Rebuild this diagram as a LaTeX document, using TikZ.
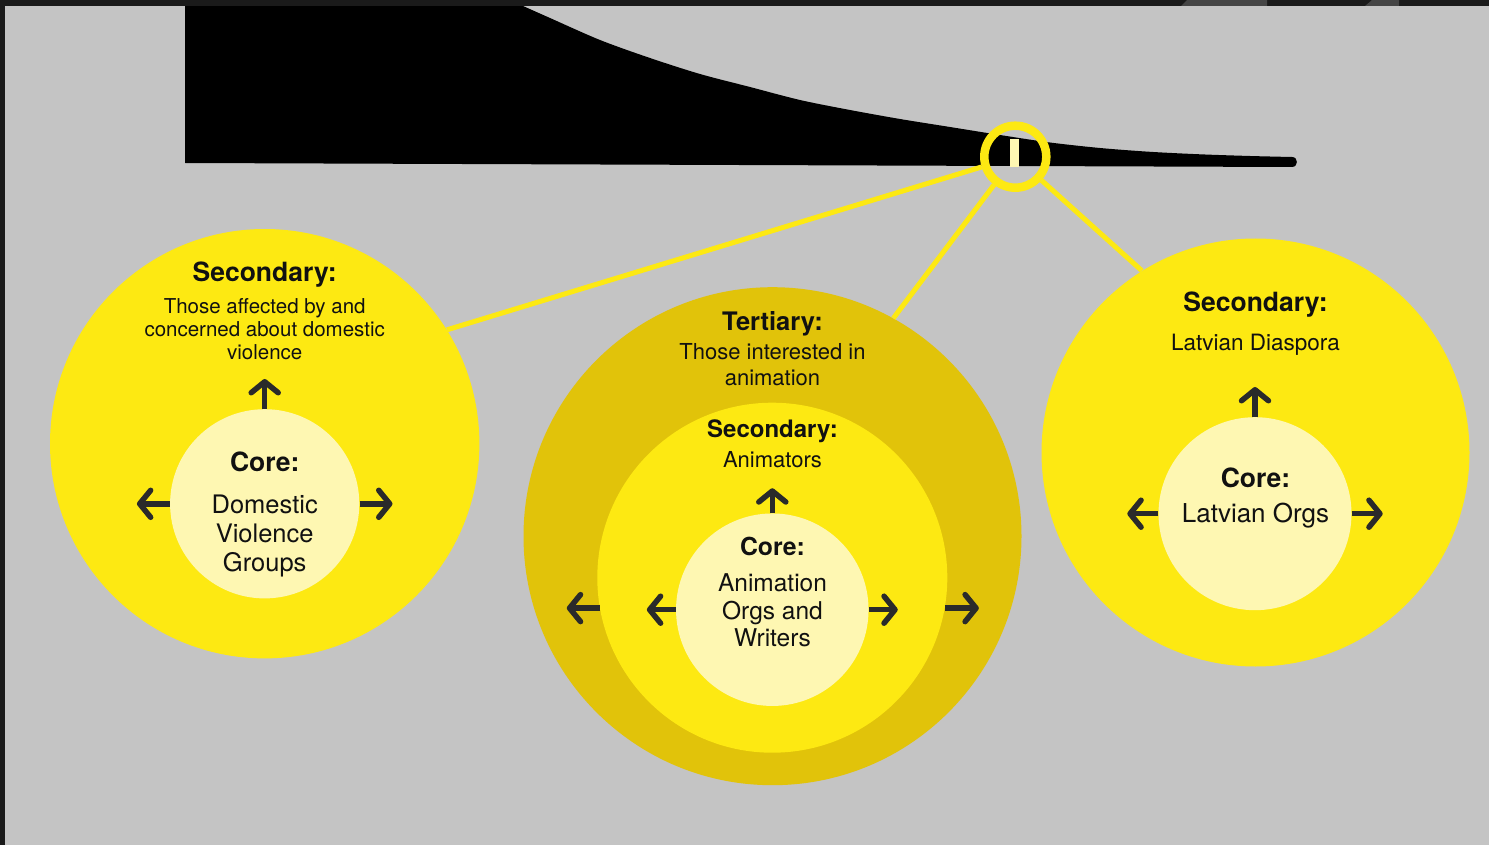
\documentclass[tikz,border=0pt]{standalone}
\usepackage{fontspec}
\setmainfont{TeX Gyre Heros}
\usetikzlibrary{arrows.meta}

\definecolor{bggray}{HTML}{C4C4C4}
\definecolor{framec}{HTML}{1A1A1A}
\definecolor{tabc}{HTML}{454545}
\definecolor{sunny}{HTML}{FDE912}
\definecolor{ochre}{HTML}{E1C30A}
\definecolor{cream}{HTML}{FEF7B2}
\definecolor{ink}{HTML}{111111}
\definecolor{arrowc}{HTML}{2A2A2A}

\tikzset{
  disc/.style={circle, inner sep=0pt, minimum size=#1},
  head/.style={anchor=base, text=ink, align=center,
    font=\fontsize{#1}{#1}\bfseries\selectfont},
  % multi-line labels: anchored on the baseline of their last line
  body/.style 2 args={anchor=base, text=ink, align=center,
    font=\fontsize{#1}{#2}\selectfont},
  link/.style={draw=sunny, line width=5pt},
  outarr/.style={draw=arrowc, line width=5.5pt,
    -{Straight Barb[length=11pt, width=27pt, round]}},
}

\begin{document}
\begin{tikzpicture}[x=1pt, y=-1pt]
\useasboundingbox (0,0) rectangle (1489,845);
\fill[bggray] (0,0) rectangle (1489,845);

% long-tail distribution
\fill[black] (185,6) -- plot[smooth, tension=0.5] coordinates {
    (523,6) (550,18) (600,40) (650,58) (700,74) (750,87) (800,100)
    (850,110) (900,119) (950,127) (1000,135) (1050,142.5) (1100,148)
    (1150,151.8) (1200,154.3) (1250,156) (1292,157)}
  .. controls (1298.5,157) and (1298.5,167) .. (1292,167)
  -- (185,163) -- cycle;

% highlighted position on the tail
\node[circle, draw=sunny, line width=8.5pt, minimum size=62pt, inner sep=0pt]
  (ring) at (1015.3,156.7) {};
\node[fill=cream, minimum width=9pt, minimum height=27.4pt, inner sep=0pt]
  (tick) at (1014.8,153) {};

% audience circles
\node[disc=429.4pt, fill=sunny] (lsec)  at (264.7,443.7) {};
\node[disc=189.2pt, fill=cream] (lcore) at (264.7,503.8) {};

\node[disc=498pt,   fill=ochre] (mter)  at (772.5,536.2) {};
\node[disc=350pt,   fill=sunny] (msec)  at (772.3,577.7) {};
\node[disc=192.5pt, fill=cream] (mcore) at (772.3,609.7) {};

\node[disc=428pt,   fill=sunny] (rsec)  at (1255.5,452.5) {};
\node[disc=193pt,   fill=cream] (rcore) at (1255,513.7) {};

% connectors from the highlighted position
\draw[link] (ring) -- (lsec.32);
\draw[link] (ring) -- (mter.61);
\draw[link] (ring) -- (rsec.122.6);

% outward arrows
\draw[outarr] (lcore.north) -- ++(0,-30);
\draw[outarr] (lcore.west)  -- ++(-33,0);
\draw[outarr] (lcore.east)  -- ++(33,0);

\draw[outarr] (mcore.north) -- ++(0,-25);
\draw[outarr] (mcore.west)  -- ++(-29,0);
\draw[outarr] (mcore.east)  -- ++(29,0);
\draw[outarr] (msec.190.3)  -- ++(-33,0);
\draw[outarr] (msec.-10.3)  -- ++(34,0);

\draw[outarr] (rcore.north) -- ++(0,-30);
\draw[outarr] (rcore.west)  -- ++(-31,0);
\draw[outarr] (rcore.east)  -- ++(31,0);

% labels: left group
\node[head=26.5] (lsecT)  at (264.7,281) {Secondary:};
\node[body={20.5}{23}] (lsecB) at (264.7,359.3)
  {Those affected by and\\concerned about domestic\\violence};
\node[head=26.5] (lcoreT) at (264.7,471) {Core:};
\node[body={25.5}{29.2}] (lcoreB) at (264.7,571.7)
  {Domestic\\Violence\\Groups};

% labels: middle group
\node[head=25.5] (mterT)  at (772.5,330) {Tertiary:};
\node[body={22}{25.7}] (mterB) at (772.5,385)
  {Those interested in\\animation};
\node[head=24] (msecT)  at (772.5,437.7) {Secondary:};
\node[body={22}{22}] (msecB) at (772.5,467.7) {Animators};
\node[head=24.8] (mcoreT) at (772.5,555) {Core:};
\node[body={24.5}{27.5}] (mcoreB) at (772.5,646.7)
  {Animation\\Orgs and\\Writers};

% labels: right group
\node[head=26.5] (rsecT)  at (1255.5,311) {Secondary:};
\node[body={22.5}{22.5}] (rsecB) at (1255.5,350) {Latvian Diaspora};
\node[head=26.5] (rcoreT) at (1255.5,487.3) {Core:};
\node[body={26}{26}] (rcoreB) at (1255.5,522.3) {Latvian Orgs};

% window frame
\fill[framec] (0,0) rectangle (1489,6);
\fill[framec] (0,0) rectangle (5,845);
\fill[tabc] (1181,6) -- (1187,0) -- (1267,0) -- (1267,6) -- cycle;
\fill[tabc] (1365,6) -- (1372,0) -- (1399,0) -- (1399,6) -- cycle;
\end{tikzpicture}
\end{document}
